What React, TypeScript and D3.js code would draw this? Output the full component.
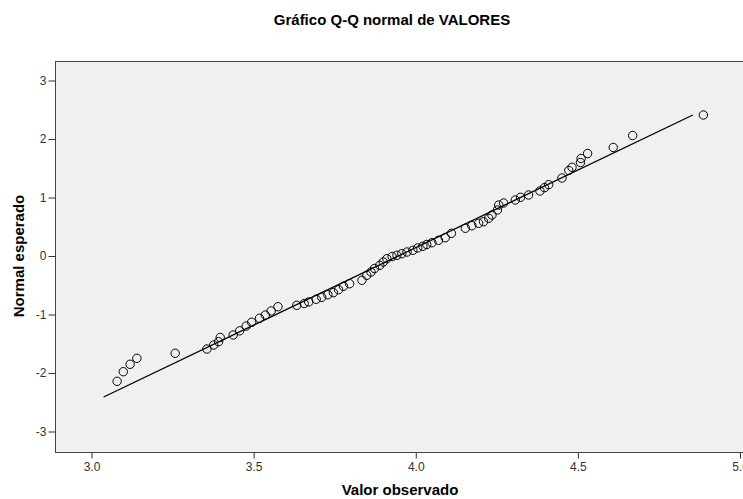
import { useEffect, useRef } from "react"
import * as d3 from "d3"

const observed = [
  3.079, 3.098, 3.119, 3.140, 3.258, 3.356, 3.377, 3.392, 3.397, 3.437,
  3.457, 3.477, 3.494, 3.518, 3.536, 3.554, 3.575, 3.633, 3.656, 3.670,
  3.693, 3.710, 3.729, 3.746, 3.762, 3.777, 3.796, 3.834, 3.849, 3.862,
  3.873, 3.889, 3.900, 3.911, 3.927, 3.942, 3.957, 3.973, 3.991, 4.006,
  4.022, 4.034, 4.050, 4.070, 4.091, 4.110, 4.153, 4.173, 4.194, 4.209,
  4.225, 4.235, 4.252, 4.256, 4.271, 4.307, 4.323, 4.348, 4.383, 4.397,
  4.410, 4.451, 4.472, 4.482, 4.508, 4.510, 4.530, 4.609, 4.669, 4.887,
]
const expected = [
  -2.142, -1.978, -1.851, -1.749, -1.663, -1.590, -1.521, -1.465, -1.393, -1.350,
  -1.279, -1.197, -1.133, -1.065, -1.009, -0.940, -0.867, -0.843, -0.812, -0.786,
  -0.740, -0.706, -0.662, -0.627, -0.576, -0.518, -0.474, -0.415, -0.330, -0.274,
  -0.214, -0.159, -0.103, -0.046, -0.009, 0.012, 0.039, 0.068, 0.097, 0.137,
  0.166, 0.197, 0.227, 0.268, 0.313, 0.388, 0.474, 0.518, 0.559, 0.586,
  0.644, 0.701, 0.786, 0.872, 0.906, 0.957, 1.003, 1.043, 1.111, 1.168,
  1.219, 1.333, 1.462, 1.516, 1.598, 1.667, 1.752, 1.855, 2.060, 2.410,
]
const xTicks = [3.0, 3.5, 4.0, 4.5, 5.0]
const yTicks = [-3, -2, -1, 0, 1, 2, 3]
// recta de referencia: z = (x - media) / desv
const lineMean = 3.946
const lineSd = 0.377
const lineZ = [-2.41, 2.41]

const title = "Gráfico Q-Q normal de VALORES"
const xTitle = "Valor observado"
const yTitle = "Normal esperado"

const font = "'Liberation Sans', Arial, sans-serif"

const App = () => {
  const ref = useRef<SVGSVGElement>(null)
  const width = 743
  const height = 499
  const frame = { left: 55, top: 61, bottom: 452, right: 800 }

  useEffect(() => {
    const x = d3.scaleLinear().domain([3, 5]).range([91.5, 740])
    const y = d3.scaleLinear().domain([-3, 3]).range([431.5, 80.5])

    const svg = d3.select(ref.current)
    svg.selectAll("*").remove()

    svg.append("rect")
      .attr("width", width)
      .attr("height", height)
      .attr("fill", "#fff")

    svg.append("rect")
      .attr("x", frame.left + 0.5)
      .attr("y", frame.top + 0.5)
      .attr("width", frame.right - frame.left)
      .attr("height", frame.bottom - frame.top)
      .attr("fill", "#f0f0f0")
      .attr("stroke", "#444")
      .attr("stroke-width", 1)

    const yAxis = svg.append("g")
      .attr("transform", `translate(${frame.left + 0.5},0)`)
      .call(d3.axisLeft(y).tickValues(yTicks).tickSize(7).tickPadding(2).tickFormat(d => String(d)))
    yAxis.select(".domain").remove()

    const xAxis = svg.append("g")
      .attr("transform", `translate(0,${frame.bottom + 0.5})`)
      .call(d3.axisBottom(x).tickValues(xTicks).tickSize(6).tickPadding(4).tickFormat(d3.format(".1f")))
    xAxis.select(".domain").remove()

    svg.selectAll(".tick line").attr("stroke", "#333")
    svg.selectAll(".tick text")
      .attr("fill", "#333")
      .style("font-family", font)
      .style("font-size", "12px")

    const line = d3.line<number>()
      .x(z => x(lineMean + z * lineSd))
      .y(z => y(z))
    svg.append("path")
      .attr("d", line(lineZ))
      .attr("fill", "none")
      .attr("stroke", "#000")
      .attr("stroke-width", 1.3)

    svg.append("g")
      .selectAll("circle")
      .data(observed)
      .enter()
      .append("circle")
      .attr("cx", d => x(d))
      .attr("cy", (d, i) => y(expected[i]))
      .attr("r", 4.2)
      .attr("fill", "none")
      .attr("stroke", "#000")
      .attr("stroke-width", 1)

    svg.append("text")
      .attr("x", 392)
      .attr("y", 25)
      .attr("text-anchor", "middle")
      .style("font-family", font)
      .style("font-weight", "bold")
      .style("font-size", "15px")
      .text(title)

    svg.append("text")
      .attr("x", 400)
      .attr("y", 495)
      .attr("text-anchor", "middle")
      .style("font-family", font)
      .style("font-weight", "bold")
      .style("font-size", "15px")
      .text(xTitle)

    svg.append("text")
      .attr("transform", `translate(24,256) rotate(-90)`)
      .attr("text-anchor", "middle")
      .style("font-family", font)
      .style("font-weight", "bold")
      .style("font-size", "15px")
      .text(yTitle)
  }, [])

  return (
    <svg
      ref={ref}
      width={width}
      height={height}
      style={{ position: "absolute", left: 0, top: 0, display: "block" }}
    />
  )
}

export default App
